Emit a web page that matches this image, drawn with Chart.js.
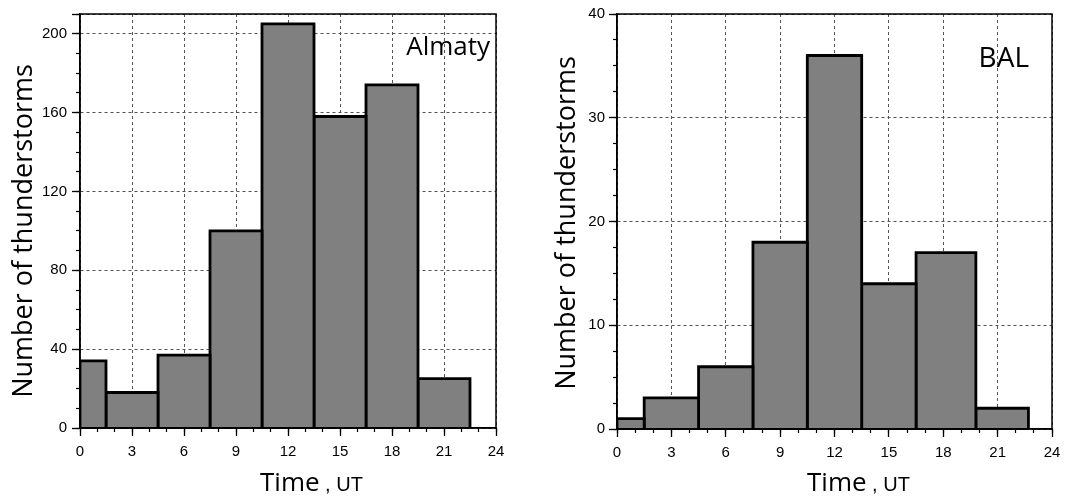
<!DOCTYPE html>
<html>
<head>
<meta charset="utf-8">
<script src="https://cdn.jsdelivr.net/npm/chart.js@4.4.1/dist/chart.umd.min.js"></script>
<style>
  body { margin: 0; background: #fff; }
  #wrap { position: relative; width: 1077px; height: 498px; }
  #almaty { position: absolute; left: 0; top: 0; }
  #bal { position: absolute; left: 540px; top: 0; }
</style>
</head>
<body>
<div id="wrap">
  <canvas id="almaty" width="540" height="498"></canvas>
  <canvas id="bal" width="537" height="498"></canvas>
</div>
<script>
// histogram bins (hours UT) and counts
var almatyEdges = [0, 1.5, 4.5, 7.5, 10.5, 13.5, 16.5, 19.5, 22.5];
var almatyCounts = [34, 18, 37, 100, 205, 158, 174, 25];
var balEdges = [0, 1.5, 4.5, 7.5, 10.5, 13.5, 16.5, 19.8, 22.7];
var balCounts = [1, 3, 6, 18, 36, 14, 17, 2];
var hourTicks = [0, 3, 6, 9, 12, 15, 18, 21, 24];
var almatyTicks = [0, 40, 80, 120, 160, 200];
var balTicks = [0, 10, 20, 30, 40];

var tickFont = { family: '"Liberation Sans", Arial, sans-serif', size: 15 };
var titleFont = '"Open Sans", sans-serif';

// each bar is a small outline drawn on the linear scales
function barSets(edges, counts) {
  var sets = [];
  for (var i = 0; i < counts.length; i++) {
    sets.push({
      data: [
        { x: edges[i], y: 0 }, { x: edges[i], y: counts[i] },
        { x: edges[i + 1], y: counts[i] }, { x: edges[i + 1], y: 0 }
      ],
      fill: 'origin',
      backgroundColor: '#808080',
      borderColor: '#000',
      borderWidth: 2.8,
      borderJoinStyle: 'miter',
      pointRadius: 0,
      tension: 0
    });
  }
  return sets;
}

function panelText(o) {
  return {
    id: 'panelText',
    afterDraw: function (chart) {
      var c = chart.ctx, a = chart.chartArea;
      c.save();
      // frame
      c.strokeStyle = '#000';
      c.lineWidth = 1.5;
      c.strokeRect(a.left, a.top, a.right - a.left, a.bottom - a.top);
      // bar bottoms sit on the axis
      c.lineWidth = 2.2;
      c.beginPath();
      c.moveTo(a.left, a.bottom);
      c.lineTo(chart.scales.x.getPixelForValue(o.lastEdge), a.bottom);
      c.stroke();
      c.fillStyle = '#000';
      // panel name
      c.font = o.nameSize + 'px ' + titleFont;
      c.textAlign = 'right';
      c.textBaseline = 'alphabetic';
      c.fillText(o.name, a.right - o.nameDx, a.top + o.nameDy);
      // x title
      c.textAlign = 'left';
      c.font = '26px ' + titleFont;
      c.fillText('Time', o.timeX, 491);
      var w = c.measureText('Time').width;
      c.font = '20px "Liberation Sans", Arial, sans-serif';
      c.fillText(' , UT', o.timeX + w, 491);
      // y title
      c.translate(a.left - o.yTitleDx, o.yTitleY);
      c.rotate(-Math.PI / 2);
      c.textAlign = 'center';
      c.font = '27px ' + titleFont;
      c.fillText('Number of thunderstorms', 0, 0);
      c.restore();
    }
  };
}

function makeChart(id, edges, counts, yTicks, yMax, yMinor, o) {
  o.lastEdge = edges[edges.length - 1];
  return new Chart(document.getElementById(id), {
    type: 'line',
    data: { datasets: barSets(edges, counts) },
    options: {
      responsive: false,
      animation: false,
      layout: { padding: { top: 14, right: o.padRight, left: 0, bottom: 0 } },
      plugins: { legend: { display: false }, tooltip: { enabled: false } },
      scales: {
        x: {
          type: 'linear', min: 0, max: 24, weight: 1,
          ticks: {
            stepSize: 3, autoSkip: false, maxRotation: 0, color: '#000',
            font: tickFont, padding: 7,
            callback: function (v) { return hourTicks.indexOf(v) >= 0 ? String(v) : ''; }
          },
          grid: { color: '#555', lineWidth: 1, tickColor: '#000', tickLength: 8, tickWidth: 1.3 },
          border: { display: true, color: '#000', width: 1.5, dash: [3, 3] },
          afterFit: function (s) { s.height = o.xHeight; }
        },
        xm: {
          type: 'linear', min: 0, max: 24, position: 'bottom', weight: 0,
          ticks: { stepSize: 1, display: false },
          grid: { drawOnChartArea: false, tickColor: '#000', tickLength: 4, tickWidth: 1.2 },
          border: { display: false },
          afterFit: function (s) { s.height = 0; }
        },
        y: {
          type: 'linear', min: 0, max: yMax, weight: 1,
          ticks: {
            stepSize: yTicks[1] - yTicks[0], autoSkip: false, color: '#000',
            font: tickFont, padding: o.yPad,
            callback: function (v) { return yTicks.indexOf(v) >= 0 ? String(v) : ''; }
          },
          grid: { color: '#555', lineWidth: 1, tickColor: '#000', tickLength: 8, tickWidth: 1.3 },
          border: { display: true, color: '#000', width: 1.5, dash: [3, 3] },
          afterFit: function (s) { s.width = o.yWidth; }
        },
        ym: {
          type: 'linear', min: 0, max: yMax, position: 'left', weight: 0,
          ticks: { stepSize: yMinor, display: false },
          grid: { drawOnChartArea: false, tickColor: '#000', tickLength: 4, tickWidth: 1.2 },
          border: { display: false },
          afterFit: function (s) { s.width = 0; }
        }
      }
    },
    plugins: [panelText(o)]
  });
}

makeChart('almaty', almatyEdges, almatyCounts, almatyTicks, 210, 10, {
  padRight: 44, xHeight: 70, yWidth: 80, yPad: 5,
  name: 'Almaty', nameSize: 26, nameDx: 6, nameDy: 41,
  timeX: 260, yTitleDx: 48, yTitleY: 231
});
makeChart('bal', balEdges, balCounts, balTicks, 40, 2.5, {
  padRight: 25, xHeight: 69, yWidth: 77, yPad: 4,
  name: 'BAL', nameSize: 28, nameDx: 23, nameDy: 53,
  timeX: 267, yTitleDx: 42, yTitleY: 223
});
</script>
</body>
</html>
